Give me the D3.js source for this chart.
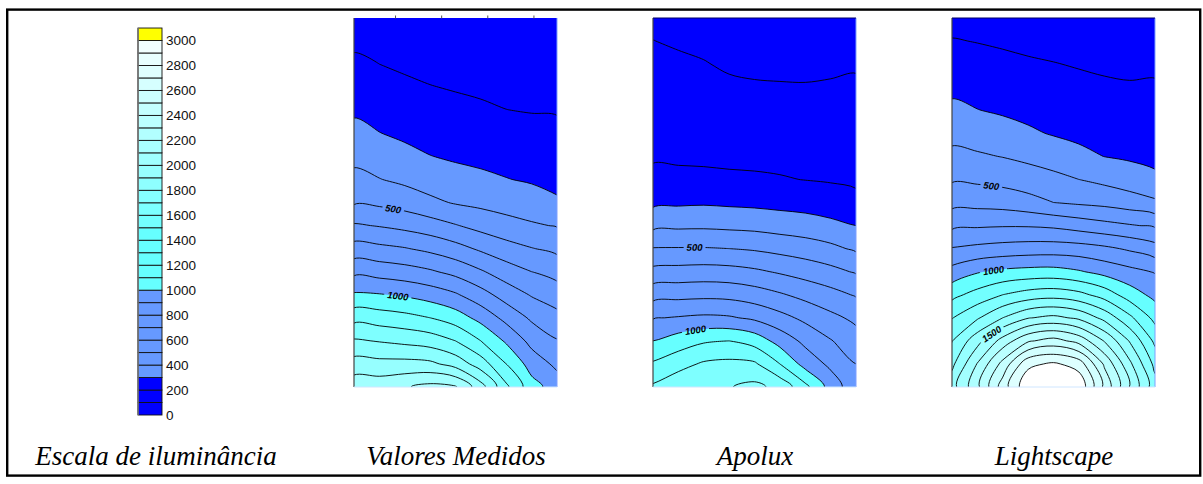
<!DOCTYPE html>
<html>
<head>
<meta charset="utf-8">
<script src="https://cdn.jsdelivr.net/npm/d3@7"></script>
<style>
  body { margin: 0; background: #fff; }
  svg { display: block; }
  .sans { font-family: "Liberation Sans", Arial, Helvetica, sans-serif; }
  .serif { font-family: "Liberation Serif", "Times New Roman", Times, serif; font-style: italic; }
</style>
</head>
<body>
<svg id="chart"></svg>
<script>
// ---- data -------------------------------------------------------------
// contour levels (lux)
const LEVELS = [100, 200, 300, 400, 500, 600, 700, 800, 900, 1000,
  1100, 1200, 1300, 1400, 1500, 1600, 1700, 1800, 1900, 2000,
  2100, 2200, 2300, 2400, 2500, 2600, 2700, 2800, 2900, 3000];

// legend cells (lower bound of each 100 lux step) and labelled ticks
const LEGEND_STEPS = [0, 100, 200, 300, 400, 500, 600, 700, 800, 900, 1000,
  1100, 1200, 1300, 1400, 1500, 1600, 1700, 1800, 1900, 2000,
  2100, 2200, 2300, 2400, 2500, 2600, 2700, 2800, 2900, 3000];
const LEGEND_TICKS = [0, 200, 400, 600, 800, 1000, 1200, 1400, 1600, 1800,
  2000, 2200, 2400, 2600, 2800, 3000];

const TITLES = ["Escala de iluminância", "Valores Medidos", "Apolux", "Lightscape"];

// illuminance read on a 9 x 17 grid (columns left->right, rows top->bottom)
const GRID_COLS = 9, GRID_ROWS = 17;
const ROOM_WIDTH = 4.4;                 // room width, same units as the ticks
const MEASURE_TICKS = [0.9, 1.9, 2.9, 3.9];

const MEDIDOS = [
  [150, 140, 130, 125, 120, 115, 112, 110, 112],
  [183, 170, 158, 151, 145, 139, 134, 132, 132],
  [217, 200, 186, 176, 169, 162, 156, 153, 153],
  [252, 234, 217, 203, 194, 186, 179, 175, 173],
  [286, 268, 250, 235, 223, 213, 201, 196, 194],
  [328, 302, 283, 267, 255, 246, 235, 227, 221],
  [374, 352, 326, 302, 288, 279, 269, 259, 248],
  [427, 403, 379, 354, 333, 318, 303, 290, 275],
  [489, 480, 458, 421, 392, 376, 360, 342, 312],
  [611, 594, 572, 544, 506, 467, 435, 412, 394],
  [741, 724, 706, 676, 635, 584, 538, 504, 477],
  [876, 859, 841, 813, 771, 711, 648, 600, 565],
  [1013, 1006, 987, 956, 912, 839, 757, 692, 650],
  [1167, 1150, 1131, 1100, 1050, 967, 870, 784, 730],
  [1312, 1294, 1275, 1253, 1200, 1100, 985, 870, 806],
  [1442, 1431, 1433, 1422, 1362, 1250, 1100, 956, 878],
  [1563, 1560, 1590, 1630, 1610, 1440, 1220, 1040, 950]
];

const APOLUX = [
  [82, 73, 62, 43, 36, 34, 34, 42, 53],
  [101, 92, 83, 67, 60, 58, 58, 64, 72],
  [120, 112, 104, 90, 84, 82, 81, 86, 92],
  [138, 131, 124, 113, 108, 106, 105, 108, 112],
  [157, 150, 145, 136, 133, 131, 129, 130, 132],
  [176, 170, 166, 160, 157, 155, 153, 151, 150],
  [189, 186, 184, 181, 179, 177, 174, 170, 168],
  [226, 222, 220, 215, 212, 206, 198, 192, 186],
  [280, 285, 289, 283, 278, 270, 262, 246, 222],
  [376, 381, 383, 377, 371, 357, 345, 325, 300],
  [505, 506, 506, 500, 489, 470, 450, 423, 385],
  [629, 635, 641, 635, 617, 589, 560, 529, 490],
  [765, 771, 776, 771, 747, 711, 671, 633, 591],
  [894, 907, 918, 911, 882, 832, 777, 725, 678],
  [1000, 1047, 1088, 1100, 1060, 962, 875, 806, 743],
  [1113, 1165, 1213, 1225, 1215, 1100, 963, 878, 800],
  [1215, 1270, 1290, 1295, 1325, 1270, 1127, 960, 830]
];

const LIGHTSCAPE = [
  [168, 162, 155, 147, 142, 136, 128, 128, 138],
  [205, 197, 188, 179, 172, 165, 157, 155, 162],
  [242, 232, 222, 211, 203, 194, 185, 181, 186],
  [279, 267, 255, 243, 233, 222, 214, 208, 209],
  [321, 302, 288, 275, 263, 251, 242, 235, 233],
  [370, 356, 338, 314, 293, 280, 270, 262, 257],
  [425, 412, 397, 378, 355, 323, 299, 288, 280],
  [489, 482, 469, 447, 426, 400, 376, 346, 316],
  [570, 568, 559, 535, 500, 485, 473, 450, 417],
  [679, 688, 693, 692, 682, 656, 630, 608, 587],
  [806, 824, 838, 847, 850, 843, 821, 786, 740],
  [935, 991, 1020, 1033, 1036, 1010, 967, 929, 893],
  [1071, 1136, 1200, 1243, 1260, 1230, 1158, 1050, 971],
  [1195, 1288, 1400, 1494, 1525, 1481, 1370, 1223, 1070],
  [1296, 1464, 1640, 1787, 1838, 1765, 1595, 1393, 1177],
  [1376, 1606, 1833, 2075, 2116, 2057, 1786, 1523, 1272],
  [1460, 1677, 1950, 2180, 2190, 2180, 1878, 1597, 1340]
];

const MAPS = [MEDIDOS, APOLUX, LIGHTSCAPE];

// labelled isolines: which map, which level, and where along the width (room units)
const CONTOUR_LABELS = [
  { map: 0, level: 500, at: 0.85 },
  { map: 0, level: 1000, at: 0.95 },
  { map: 1, level: 500, at: 0.9 },
  { map: 1, level: 1000, at: 0.92 },
  { map: 2, level: 500, at: 0.85 },
  { map: 2, level: 1000, at: 0.9 },
  { map: 2, level: 1500, at: 0.86 }
];

// ---- styles -------------------------------------------------------------
const LEGEND_COLORS = [
  "#0000ff", "#0000ff", "#0000ff",
  "#6699ff", "#6699ff", "#6699ff", "#6699ff", "#6699ff", "#6699ff", "#6699ff",
  "#66ffff", "#66ffff", "#66ffff", "#66ffff", "#66ffff",
  "#73ffff", "#7cffff", "#85ffff", "#8effff", "#97ffff", "#a0ffff", "#a9ffff",
  "#b2ffff", "#bbffff", "#c4ffff", "#cdffff", "#d6ffff", "#dfffff", "#e8ffff", "#f1ffff",
  "#ffff00"
];
// fill of the region >= LEVELS[i] on the maps
const MAP_BASE = "#0000ff";
const MAP_COLORS = [
  "#0000ff", "#0000ff",
  "#6699ff", "#6699ff", "#6699ff", "#6699ff", "#6699ff", "#6699ff", "#6699ff",
  "#66ffff", "#72ffff", "#7effff", "#8affff", "#96ffff", "#a2ffff",
  "#aeffff", "#baffff", "#c6ffff", "#d2ffff", "#deffff",
  "#ffffff", "#ffffff", "#ffffff", "#ffffff", "#ffffff",
  "#ffffff", "#ffffff", "#ffffff", "#ffffff", "#ffffff"
];

const width = 1203, height = 484;
const panelX = [354, 653, 952], panelY = 18, panelW = 203, panelH = 369;
const titleX = [156, 456, 755, 1054], titleY = 465;

const svg = d3.select("#chart")
  .attr("width", width)
  .attr("height", height)
  .attr("viewBox", [0, 0, width, height]);

// outer frame
svg.append("rect")
  .attr("x", 7.2).attr("y", 9.6)
  .attr("width", 1193).attr("height", 466)
  .attr("fill", "none")
  .attr("stroke", "#000")
  .attr("stroke-width", 2.4);

// ---- legend -------------------------------------------------------------
const ly = d3.scaleLinear().domain([0, 3000]).range([415, 40.5]);
const legend = svg.append("g");
legend.selectAll("rect")
  .data(LEGEND_STEPS)
  .join("rect")
  .attr("x", 138)
  .attr("width", 24)
  .attr("y", d => ly(d + 100))
  .attr("height", d => ly(d) - ly(d + 100))
  .attr("fill", (d, i) => LEGEND_COLORS[i])
  .attr("stroke", "#111")
  .attr("stroke-width", 0.9);
legend.append("line")
  .attr("x1", 138).attr("x2", 138)
  .attr("y1", ly(3100)).attr("y2", ly(0))
  .attr("stroke", "#777").attr("stroke-width", 1.6);
legend.selectAll("text")
  .data(LEGEND_TICKS)
  .join("text")
  .attr("class", "sans")
  .attr("x", 166)
  .attr("y", d => ly(d))
  .attr("dy", "0.36em")
  .style("font-size", "13.5px")
  .attr("fill", "#111")
  .text(d => d);

// ---- contour maps ---------------------------------------------------------
const contourGen = d3.contours().size([GRID_COLS, GRID_ROWS]).thresholds(LEVELS);

MAPS.forEach((grid, m) => {
  const values = grid.flat();
  const x0 = panelX[m];
  const sx = d3.scaleLinear().domain([0.5, GRID_COLS - 0.5]).range([x0, x0 + panelW]);
  const sy = d3.scaleLinear().domain([0.5, GRID_ROWS - 0.5]).range([panelY, panelY + panelH]);
  const room = d3.scaleLinear().domain([0, ROOM_WIDTH]).range([x0, x0 + panelW]);
  const ring = d3.line()
    .x(p => sx(p[0]))
    .y(p => sy(p[1]))
    .curve(d3.curveCatmullRomClosed.alpha(0.5));
  const pathOf = mp => mp.coordinates
    .map(poly => poly.map(r => ring(r.slice(0, -1))).join(""))
    .join("");

  const bands = contourGen(values);

  const clipId = "clip" + m, maskId = "mask" + m;
  const defs = svg.append("defs");
  defs.append("clipPath").attr("id", clipId)
    .append("rect")
    .attr("x", x0).attr("y", panelY)
    .attr("width", panelW).attr("height", panelH);

  const g = svg.append("g").attr("clip-path", `url(#${clipId})`);
  g.append("rect")
    .attr("x", x0).attr("y", panelY)
    .attr("width", panelW).attr("height", panelH)
    .attr("fill", MAP_BASE);

  g.append("g").selectAll("path")
    .data(bands)
    .join("path")
    .attr("d", pathOf)
    .attr("fill", (d, i) => MAP_COLORS[i])
    .attr("fill-rule", "evenodd");

  // value along a vertical line, bilinear on the grid; first crossing from the top
  function crossing(xpx, level) {
    const c = Math.max(0, Math.min(GRID_COLS - 1.0001, sx.invert(xpx) - 0.5));
    const c0 = Math.floor(c), f = c - c0;
    const col = grid.map(row => row[c0] * (1 - f) + row[c0 + 1] * f);
    for (let r = 0; r < GRID_ROWS - 1; r++) {
      if ((col[r] - level) * (col[r + 1] - level) <= 0 && col[r] !== col[r + 1]) {
        return sy(r + 0.5 + (level - col[r]) / (col[r + 1] - col[r]));
      }
    }
    return null;
  }

  const labels = CONTOUR_LABELS.filter(d => d.map === m).map(d => {
    const x = room(d.at);
    const y = crossing(x, d.level);
    const ya = crossing(x - 4, d.level), yb = crossing(x + 4, d.level);
    const angle = Math.atan2(yb - ya, 8) * 180 / Math.PI;
    return { ...d, x, y, angle, w: String(d.level).length * 5.6 + 5 };
  });

  const mask = defs.append("mask").attr("id", maskId)
    .attr("maskUnits", "userSpaceOnUse")
    .attr("x", x0 - 5).attr("y", panelY - 5)
    .attr("width", panelW + 10).attr("height", panelH + 10);
  mask.append("rect")
    .attr("x", x0 - 5).attr("y", panelY - 5)
    .attr("width", panelW + 10).attr("height", panelH + 10)
    .attr("fill", "#fff");
  mask.selectAll("rect.hole")
    .data(labels)
    .join("rect")
    .attr("class", "hole")
    .attr("x", d => -d.w / 2).attr("y", -5)
    .attr("width", d => d.w).attr("height", 10)
    .attr("transform", d => `translate(${d.x},${d.y}) rotate(${d.angle})`)
    .attr("fill", "#000");

  g.append("g")
    .attr("mask", `url(#${maskId})`)
    .selectAll("path")
    .data(bands)
    .join("path")
    .attr("d", pathOf)
    .attr("fill", "none")
    .attr("stroke", "#000")
    .attr("stroke-width", 0.9);

  g.append("g").selectAll("text")
    .data(labels)
    .join("text")
    .attr("class", "sans")
    .attr("transform", d => `translate(${d.x},${d.y}) rotate(${d.angle})`)
    .attr("text-anchor", "middle")
    .attr("dy", "0.35em")
    .style("font-size", "9.5px")
    .style("font-style", "italic")
    .style("font-weight", "bold")
    .attr("fill", "#000")
    .text(d => d.level);

  // panel edges
  const edge = (x1, y1, x2, y2, c, w) => svg.append("line")
    .attr("x1", x1).attr("y1", y1).attr("x2", x2).attr("y2", y2)
    .attr("stroke", c).attr("stroke-width", w);
  edge(x0, panelY, x0, panelY + panelH, "#444", 1.2);
  edge(x0 + panelW, panelY, x0 + panelW, panelY + panelH, "#7f9fff", 1);
  edge(x0, panelY + panelH, x0 + panelW, panelY + panelH, "#cfe6ff", 1);
  if (m > 0) edge(x0, panelY, x0 + panelW, panelY, "#000066", 1);
  if (m === 0) {
    svg.append("g").selectAll("line")
      .data(MEASURE_TICKS)
      .join("line")
      .attr("x1", d => room(d)).attr("x2", d => room(d))
      .attr("y1", panelY - 2.5).attr("y2", panelY + 0.5)
      .attr("stroke", "#555").attr("stroke-width", 1);
  }
});

// ---- titles ---------------------------------------------------------------
svg.append("g").selectAll("text")
  .data(TITLES)
  .join("text")
  .attr("class", "serif")
  .attr("x", (d, i) => titleX[i])
  .attr("y", titleY)
  .attr("text-anchor", "middle")
  .style("font-size", "27px")
  .attr("fill", "#000")
  .text(d => d);
</script>
</body>
</html>
